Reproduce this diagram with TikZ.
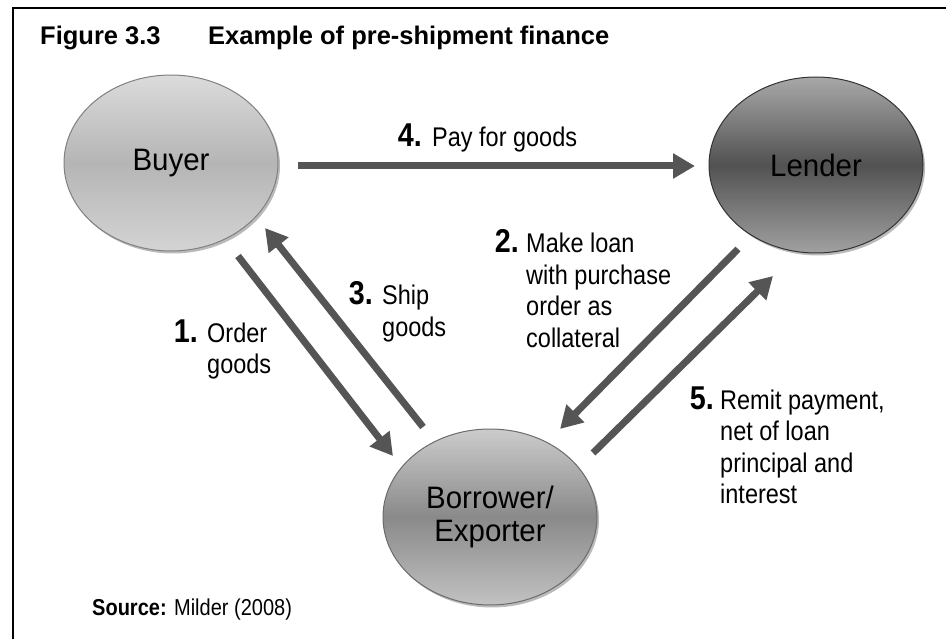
\documentclass[tikz,border=0pt]{standalone}
\usepackage{fontspec}
\setmainfont{Liberation Sans}[FakeStretch=0.87]
\newfontfamily\ellfont{Liberation Sans}[FakeStretch=0.95]
\newfontfamily\titlefont{Liberation Sans}
\usetikzlibrary{shapes.geometric,arrows.meta,shadows}
\definecolor{arrgray}{HTML}{555555}
\tikzset{
  party/.style={ellipse, inner sep=0pt, minimum width=214pt, minimum height=176pt,
    align=center, font=\ellfont\fontsize{31}{35}\selectfont,
    drop shadow={shadow xshift=2pt, shadow yshift=-2.5pt, fill=black!45, opacity=.6}},
  arr/.style={draw=arrgray, line width=7pt,
    -{Triangle[length=22pt,width=24pt]}},
  num/.style={anchor=base east, inner sep=0pt, font=\bfseries\fontsize{33}{36}\selectfont},
  lbl/.style={anchor=base west, inner sep=0pt, font=\fontsize{27}{31.5}\selectfont},
  ttl/.style={anchor=base west, inner sep=0pt, font=\titlefont\bfseries\fontsize{25.5}{29}\selectfont},
}
\begin{document}
\begin{tikzpicture}[x=1pt,y=-1pt]
\useasboundingbox (0,0) rectangle (946,639);
% frame
\draw[line width=2pt] (13,639) -- (13,8) -- (946,8);
% title
\node[ttl] (fig) at (40,45) {Figure 3.3};
\node[ttl] (ttltext) at (208,45) {Example of pre-shipment finance};
% parties
\node[party, draw=black!50, line width=1pt, top color=black!14, bottom color=black!17, middle color=black!29] (buyer) at (171,163) {Buyer};
\node[party, draw=black!80, line width=1pt, top color=black!34, bottom color=black!37, middle color=black!68] (lender) at (816,165) {Lender};
\node[party, draw=black!58, line width=1pt, top color=black!20, bottom color=black!24, middle color=black!46] (borrower) at (490,517) {Borrower/\\[-2pt]Exporter};
% connectors
\draw[arr] ([shift={(127,3)}]buyer.center) -- ([shift={(-121,1)}]lender.center);
\draw[arr] ([shift={(67,93)}]buyer.center) -- ([shift={(-97,-61)}]borrower.center);
\draw[arr] ([shift={(-67,-90)}]borrower.center) -- ([shift={(94,65)}]buyer.center);
\draw[arr] ([shift={(-78,84)}]lender.center) -- ([shift={(70,-88)}]borrower.center);
\draw[arr] ([shift={(103,-64)}]borrower.center) -- ([shift={(-43,111)}]lender.center);
% labels
\node[num] (n4) at (422,147) {4.};
\node[lbl] (l4) at (432,147) {Pay for goods};
\node[num] (n1) at (198,342) {1.};
\node[lbl] (l1) at (207,342) {\begin{tabular}[t]{@{}l@{}}Order\\goods\end{tabular}};
\node[num] (n3) at (373,305) {3.};
\node[lbl] (l3) at (382,305) {\begin{tabular}[t]{@{}l@{}}Ship\\goods\end{tabular}};
\node[num] (n2) at (519,253) {2.};
\node[lbl] (l2) at (526,253) {\begin{tabular}[t]{@{}l@{}}Make loan\\with purchase\\order as\\collateral\end{tabular}};
\node[num] (n5) at (714,409) {5.};
\node[lbl] (l5) at (720,409) {\begin{tabular}[t]{@{}l@{}}Remit payment,\\net of loan\\principal and\\interest\end{tabular}};
% source
\node[anchor=base west, inner sep=0pt, font=\fontsize{23}{27}\selectfont] (src) at (92,615) {\textbf{Source:} Milder (2008)};
\end{tikzpicture}
\end{document}
